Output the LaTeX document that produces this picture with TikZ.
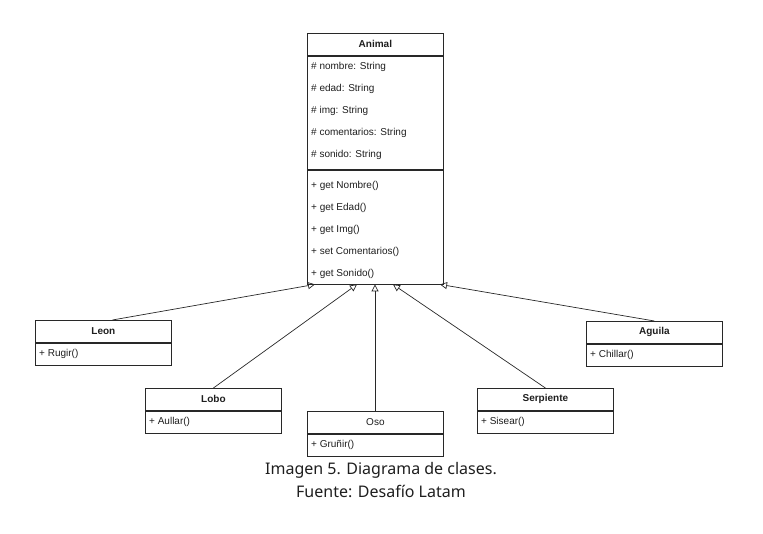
\documentclass[tikz,border=0pt]{standalone}
\usepackage{fontspec}
\setmainfont{Liberation Sans}
\newfontfamily\capfont{Noto Sans}
\usepackage{tikz}
\usetikzlibrary{arrows.meta,calc,positioning}
\definecolor{umlline}{RGB}{40,40,40}
\definecolor{umltext}{RGB}{30,30,30}

\tikzset{
  umlhead/.style={draw=umlline, line width=0.8pt, anchor=north west,
    minimum width=136pt, minimum height=22pt, inner sep=0pt,
    text=umltext, font=\fontsize{10}{12}\selectfont\bfseries},
  umlpart/.style={draw=umlline, line width=0.8pt, anchor=north west,
    minimum width=136pt, inner sep=0pt},
  member/.style={anchor=west, inner sep=0pt, text=umltext,
    font=\fontsize{10}{12}\selectfont},
  inherit/.style={draw=umlline, line width=0.7pt,
    -{Triangle[open,length=7pt,width=7pt]}}
}

\begin{document}
\begin{tikzpicture}[x=1pt,y=-1pt]
  \useasboundingbox (0,0) rectangle (763,533);
  % superclass
  \node[umlhead] (animal) at (307,33) {Animal};
  \node[umlpart, minimum height=113pt] (animalAttr) at (animal.south west) {};
  \node[umlpart, minimum height=114pt] (animalMeth) at (animalAttr.south west) {};
  \foreach \t [count=\i] in {\# nombre: String, \# edad: String, \# img: String,
      \# comentarios: String, \# sonido: String}
    \node[member] (attr\i) at ($(animalAttr.north west)+(4,11+22*\i-22)$) {\t};
  \foreach \t [count=\i] in {+ get Nombre(), + get Edad(), + get Img(),
      + set Comentarios(), + get Sonido()}
    \node[member] (meth\i) at ($(animalMeth.north west)+(4,16+22*\i-22)$) {\t};
  % subclasses
  \node[umlhead] (leon) at (35,320) {Leon};
  \node[umlpart, minimum height=22pt] (leonMeth) at (leon.south west) {};
  \node[member] (leonM) at ($(leonMeth.west)+(4,0)$) {+ Rugir()};
  \node[umlhead] (lobo) at (145,388) {Lobo};
  \node[umlpart, minimum height=22pt] (loboMeth) at (lobo.south west) {};
  \node[member] (loboM) at ($(loboMeth.west)+(4,0)$) {+ Aullar()};
  \node[umlhead, font=\fontsize{10}{12}\selectfont] (oso) at (307,411) {Oso};
  \node[umlpart, minimum height=22pt] (osoMeth) at (oso.south west) {};
  \node[member] (osoM) at ($(osoMeth.west)+(4,0)$) {+ Gruñir()};
  \node[umlhead] (serpiente) at (477,388) {Serpiente};
  \node[umlpart, minimum height=22pt] (serpienteMeth) at (serpiente.south west) {};
  \node[member] (serpienteM) at ($(serpienteMeth.west)+(4,0)$) {+ Sisear()};
  \node[umlhead] (aguila) at (586,321) {Aguila};
  \node[umlpart, minimum height=22pt] (aguilaMeth) at (aguila.south west) {};
  \node[member] (aguilaM) at ($(aguilaMeth.west)+(4,0)$) {+ Chillar()};
  % arrow ends on the superclass
  \coordinate (toLeon) at ($(animalMeth.south west)+(8,0)$);
  \coordinate (toLobo) at ($(animalMeth.south west)+(50,0)$);
  \coordinate (toOso) at ($(animalMeth.south west)+(68,0)$);
  \coordinate (toSerpiente) at ($(animalMeth.south west)+(86,0)$);
  \coordinate (toAguila) at ($(animalMeth.south west)+(133,0)$);
  \draw[inherit] ($(leon.north)+(9,0)$) -- (toLeon);
  \draw[inherit] (lobo.north) -- (toLobo);
  \draw[inherit] (oso.north west -| toOso) -- (toOso);
  \draw[inherit] (serpiente.north) -- (toSerpiente);
  \draw[inherit] (aguila.north) -- (toAguila);
  % caption
  \node[align=center, font=\capfont\fontsize{16}{23}\selectfont, text=umltext]
    (caption) at (381,480) {Imagen 5. Diagrama de clases.\\Fuente: Desafío Latam};
\end{tikzpicture}
\end{document}
